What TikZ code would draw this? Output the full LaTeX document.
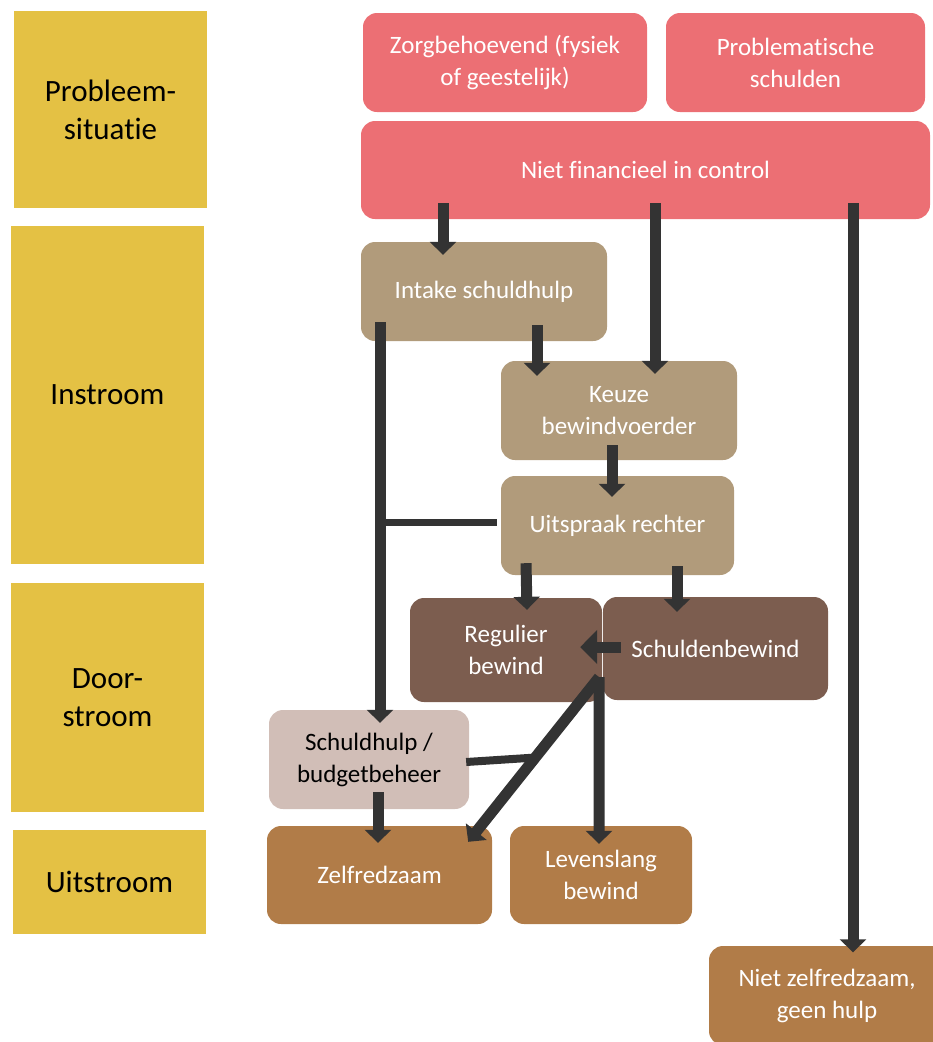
\documentclass[tikz,border=0pt]{standalone}
\usepackage{fontspec}
\setmainfont{Carlito}[Ligatures={NoCommon}]
\usetikzlibrary{arrows.meta,calc}
\definecolor{cyellow}{HTML}{E4C144}
\definecolor{cred}{HTML}{EC6F74}
\definecolor{ctan}{HTML}{B19B7B}
\definecolor{cdark}{HTML}{7C5D4F}
\definecolor{cpink}{HTML}{D1BEB7}
\definecolor{corange}{HTML}{B17C48}
\definecolor{carrow}{HTML}{333333}
\begin{document}
\begin{tikzpicture}[x=1pt,y=-1pt,
  box/.style 2 args={rounded corners=14pt, minimum width=#1, minimum height=#2,
    inner sep=0pt, align=center, font=\fontsize{25}{32}\selectfont, text=white},
  phase/.style 2 args={fill=cyellow, minimum width=#1, minimum height=#2,
    inner sep=0pt, align=center, font=\fontsize{31}{38}\selectfont, text=black},
  arr/.style={draw=carrow, line width=11pt, -{Triangle[width=26pt,length=13pt]}},
  bigarr/.style={draw=carrow, line width=11pt, -{Triangle[width=33pt,length=17pt]}},
  link/.style={draw=carrow, line width=#1},
]
\useasboundingbox (0,0) rectangle (933,1042);
\clip (0,0) rectangle (933,1042);

% phase column
\node[phase={193pt}{197pt}] (p1) at (110.5,109.5) {Probleem-\\situatie};
\node[phase={193pt}{338pt}] (p2) at (107.5,395) {Instroom};
\node[phase={193pt}{229pt}] (p3) at (107.5,697.5) {Door-\\stroom};
\node[phase={193pt}{104pt}] (p4) at (109.5,882) {Uitstroom};

% problem situation
\node[box={284pt}{99pt}, fill=cred] (zorg) at (505,62.5) {Zorgbehoevend (fysiek\\of geestelijk)};
\node[box={259pt}{99pt}, fill=cred] (probl) at (795.5,62.5) {Problematische\\schulden};
\node[box={569pt}{98pt}, fill=cred] (niet) at (645.5,170) {Niet financieel in control};

% instroom
\node[box={246pt}{99pt}, fill=ctan] (intake) at (484,291.5) {Intake schuldhulp};
\node[box={236pt}{99pt}, fill=ctan] (keuze) at (619,410.5) {Keuze\\bewindvoerder};
\node[box={233pt}{99pt}, fill=ctan] (uitspraak) at (617.5,525.5) {Uitspraak rechter};

% doorstroom
\node[box={192pt}{104pt}, fill=cdark] (regulier) at (506,650) {Regulier\\bewind};
\node[box={225pt}{103pt}, fill=cdark] (schulden) at (715.5,648.5) {Schuldenbewind};
\node[box={200pt}{99pt}, fill=cpink, text=black] (schuldhulp) at (369,759.5) {Schuldhulp /\\budgetbeheer};

% uitstroom
\node[box={225pt}{98pt}, fill=corange] (zelf) at (379.5,875) {Zelfredzaam};
\node[box={182pt}{98pt}, fill=corange] (leven) at (601,875) {Levenslang\\bewind};
\node[box={236pt}{99pt}, fill=corange] (nietzelf) at (827,995.5) {Niet zelfredzaam,\\geen hulp};

% connectors
\coordinate (vtop) at ([xshift=-104pt,yshift=19pt]intake.south);
\coordinate (jstart) at ([xshift=-3pt,yshift=25pt]regulier.south east);
\coordinate (dend) at ([xshift=-24pt,yshift=-16pt]zelf.north east);

\draw[arr] ([xshift=-202.5pt,yshift=16pt]niet.south) -- ([xshift=-41pt,yshift=-13pt]intake.north);
\draw[arr] ([xshift=9.5pt,yshift=16pt]niet.south) -- ([xshift=36pt,yshift=-13pt]keuze.north);
\draw[arr] ([xshift=207.5pt,yshift=16pt]niet.south) -- ([xshift=26pt,yshift=-6.5pt]nietzelf.north);
\draw[arr] ([xshift=53pt,yshift=16pt]intake.south) -- ([xshift=-82pt,yshift=-15pt]keuze.north);
\draw[arr] (vtop) -- ([xshift=11pt,yshift=-13pt]schuldhulp.north);
\draw[arr] ([xshift=-7pt,yshift=15pt]keuze.south) -- ([xshift=-5.5pt,yshift=-21pt]uitspraak.north);
\draw[arr] ([xshift=-91.5pt,yshift=12pt]uitspraak.south) -- ([xshift=21pt,yshift=-12pt]regulier.north);
\draw[arr] ([xshift=59.5pt,yshift=9pt]uitspraak.south) -- ([xshift=-38.5pt,yshift=-15pt]schulden.north);
\draw[bigarr] ([xshift=18pt,yshift=1.5pt]schulden.west) -- ([xshift=-22pt,yshift=3pt]regulier.east);
\draw[arr] (jstart) -- ([xshift=-2pt,yshift=-18pt]leven.north);
\draw[arr] (jstart) -- (dend);
\draw[arr] ([xshift=9pt,yshift=17pt]schuldhulp.south) -- ([xshift=-1.5pt,yshift=-17pt]zelf.north);

\draw[link=7pt] ([xshift=-4pt,yshift=3.5pt]uitspraak.west) -- ([xshift=-4pt,yshift=3.5pt]uitspraak.west -| vtop);
\draw[link=8pt] ([xshift=-3pt,yshift=-2.5pt]schuldhulp.east) -- ($(jstart)!0.488!(dend)$);
\end{tikzpicture}
\end{document}
